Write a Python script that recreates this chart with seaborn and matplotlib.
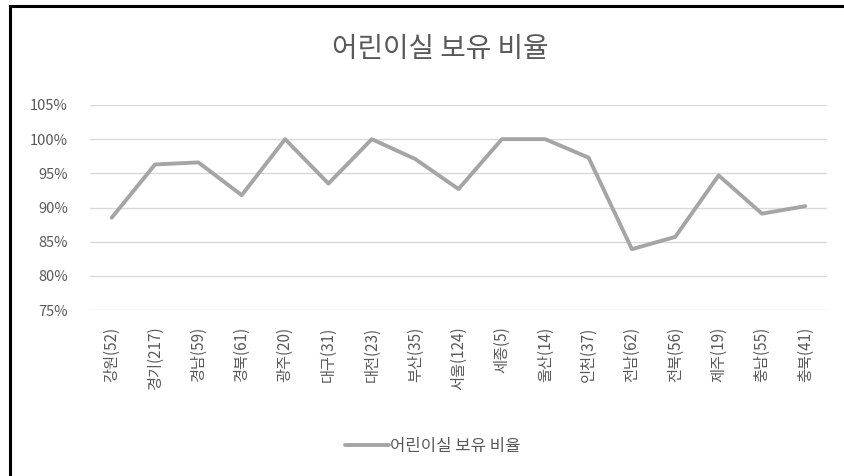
import numpy as np
import pandas as pd
import matplotlib.pyplot as plt
import seaborn as sns
from matplotlib.patches import Rectangle
from matplotlib.ticker import PercentFormatter

sns.set_theme(style="white")
plt.rcParams["font.family"] = ["Noto Sans CJK KR", "DejaVu Sans"]

regions = ["강원(52)", "경기(217)", "경남(59)", "경북(61)", "광주(20)", "대구(31)",
           "대전(23)", "부산(35)", "서울(124)", "세종(5)", "울산(14)", "인천(37)",
           "전남(62)", "전북(56)", "제주(19)", "충남(55)", "충북(41)"]
ratio = [88.5, 96.3, 96.6, 91.8, 100.0, 93.5, 100.0, 97.1, 92.7, 100.0, 100.0,
         97.3, 83.9, 85.7, 94.7, 89.1, 90.2]
series_name = "어린이실 보유 비율"
title = "어린이실 보유 비율"

df = pd.DataFrame({"region": regions, "ratio": ratio})

text_col = "#595959"
fig = plt.figure(figsize=(8.44, 4.76), dpi=100)
ax = fig.add_axes([90 / 844, 1 - 310 / 476, 737 / 844, 205 / 476])

sns.lineplot(data=df, x="region", y="ratio", ax=ax, sort=False,
             color="#a5a5a5", linewidth=2.8, label=series_name)

ax.set_ylim(75, 105)
ax.set_yticks(np.arange(75, 106, 5))
ax.yaxis.set_major_formatter(PercentFormatter(decimals=0))
ax.set_xlim(-0.5, len(regions) - 0.5)
ax.grid(axis="y", color="#d9d9d9", linewidth=1)
ax.set_axisbelow(True)
for s in ax.spines.values():
    s.set_visible(False)
ax.set_xlabel("")
ax.set_ylabel("")
ax.tick_params(axis="x", rotation=90, labelsize=11, colors=text_col, length=0, pad=12)
ax.tick_params(axis="y", labelsize=10.5, colors=text_col, length=0, pad=16)

ax.legend(loc="center", bbox_to_anchor=(433 / 844, 1 - 446 / 476),
          bbox_transform=fig.transFigure, frameon=False, fontsize=12,
          handlelength=2.6, handletextpad=0.1, labelcolor=text_col)

fig.text(440 / 844, 1 - 49 / 476, title, ha="center", va="center",
         fontsize=20, color=text_col)

# black frame on left and top edge
fig.patches.append(Rectangle((10 / 844, -0.1), 1.2, 1.1 - 6 / 476,
                             transform=fig.transFigure, fill=False,
                             edgecolor="black", linewidth=2.2))

fig.savefig("out.png", dpi=100)
